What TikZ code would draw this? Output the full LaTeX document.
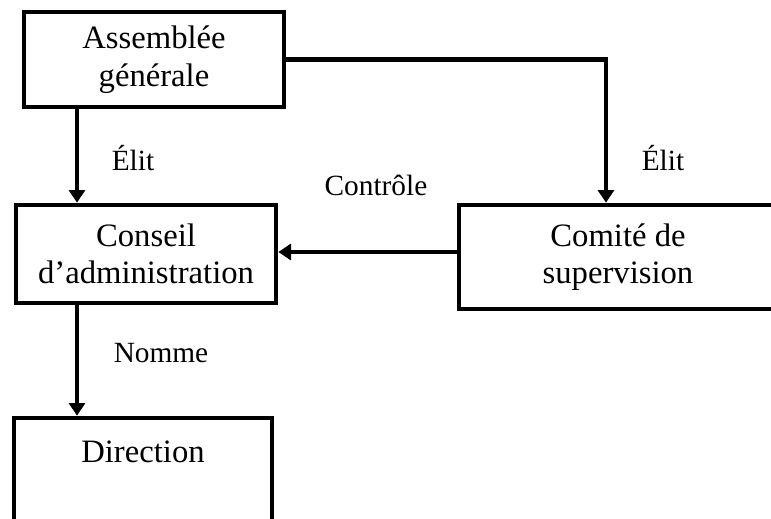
\documentclass[tikz,border=0pt]{standalone}
\usepackage{fontspec}
\setmainfont{Liberation Serif}
\usetikzlibrary{arrows.meta}
\tikzset{
  unitbox/.style={draw, line width=3.5pt, inner sep=0pt, align=center,
    font=\fontsize{24.5}{28}\selectfont},
  arr/.style={line width=3.5pt, -{Triangle[width=12pt,length=9.5pt]}},
  lbl/.style={font=\fontsize{22}{26}\selectfont, inner sep=0pt, anchor=base}
}
\begin{document}
\begin{tikzpicture}[x=0.75pt,y=-0.75pt]
\useasboundingbox (0,0) rectangle (771,518);
\clip (0,0) rectangle (771,518);
\node[unitbox, minimum width=260*0.75pt, minimum height=95*0.75pt] (ag) at (154,59.5) {Assemblée\\générale};
\node[unitbox, minimum width=260*0.75pt, minimum height=98*0.75pt] (ca) at (146,254) {Conseil\\d’administration};
\node[unitbox, minimum width=318*0.75pt, minimum height=104*0.75pt] (cs) at (618,257) {Comité de\\supervision};
\node[unitbox, minimum width=258*0.75pt, minimum height=104*0.75pt] (dir) at (143,470) {Direction\\\mbox{}};
\coordinate (vx) at (77,0);
\coordinate (hy) at (0,252);
\draw[arr] (ag.south -| vx) -- (ca.north -| vx);
\draw[arr] (ag.east) -| ([xshift=-12*0.75pt]cs.north);
\draw[arr] (cs.west |- hy) -- (ca.east |- hy);
\draw[arr] (ca.south -| vx) -- (dir.north -| vx);
\node[lbl] (l1) at (133,170) {Élit};
\node[lbl] (l2) at (663,170) {Élit};
\node[lbl] (l3) at (376,195) {Contrôle};
\node[lbl] (l4) at (161,362) {Nomme};
\end{tikzpicture}
\end{document}
